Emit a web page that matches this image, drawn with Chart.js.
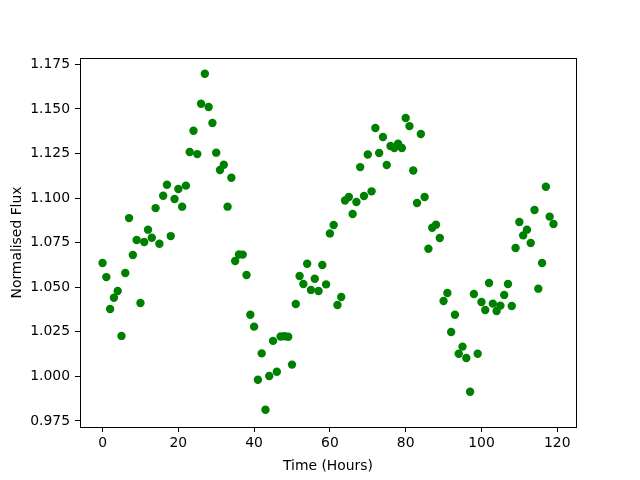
<!DOCTYPE html>
<html>
<head>
<meta charset="utf-8">
<script src="https://cdn.jsdelivr.net/npm/chart.js@4.4.0/dist/chart.umd.min.js"></script>
<style>
  html, body { margin: 0; padding: 0; background: #ffffff; }
  #wrap { width: 640px; height: 480px; }
</style>
</head>
<body>
<div id="wrap"><canvas id="c" width="640" height="480"></canvas></div>
<script>
const hours = [];
for (let h = 0; h < 120; h++) hours.push(h);

const flux = [
  1.0636, 1.0557, 1.0378, 1.0441, 1.0479, 1.0227, 1.0580, 1.0888, 1.0681, 1.0765,
  1.0412, 1.0754, 1.0823, 1.0778, 1.0944, 1.0744, 1.1013, 1.1075, 1.0787, 1.0995,
  1.1051, 1.0952, 1.1070, 1.1259, 1.1378, 1.1247, 1.1529, 1.1698, 1.1511, 1.1421,
  1.1255, 1.1158, 1.1187, 1.0952, 1.1114, 1.0647, 1.0684, 1.0683, 1.0569, 1.0346,
  1.0279, 0.9981, 1.0129, 0.9813, 1.0002, 1.0199, 1.0026, 1.0224, 1.0225, 1.0222,
  1.0066, 1.0406, 1.0563, 1.0518, 1.0632, 1.0485, 1.0548, 1.0479, 1.0625, 1.0516,
  1.0802, 1.0849, 1.0400, 1.0445, 1.0987, 1.1006, 1.0911, 1.0978, 1.1174, 1.1012,
  1.1245, 1.1038, 1.1393, 1.1253, 1.1343, 1.1186, 1.1292, 1.1281, 1.1305, 1.1281,
  1.1449, 1.1404, 1.1155, 1.0973, 1.1360, 1.1006, 1.0716, 1.0834, 1.0851, 1.0776,
  1.0423, 1.0468, 1.0249, 1.0346, 1.0127, 1.0167, 1.0103, 0.9914, 1.0462, 1.0127,
  1.0417, 1.0372, 1.0524, 1.0408, 1.0367, 1.0397, 1.0457, 1.0518, 1.0395, 1.0720,
  1.0866, 1.0791, 1.0823, 1.0748, 1.0933, 1.0492, 1.0636, 1.1064, 1.0896, 1.0855
];

const xTicks = [0, 20, 40, 60, 80, 100, 120];
const yTicks = [0.975, 1.000, 1.025, 1.050, 1.075, 1.100, 1.125, 1.150, 1.175];

const FONT = { family: "'DejaVu Sans', sans-serif", size: 13.9 };

const framePlugin = {
  id: 'frame',
  afterDraw(chart) {
    const a = chart.chartArea;
    const ctx = chart.ctx;
    ctx.save();
    ctx.strokeStyle = '#000000';
    ctx.lineWidth = 1;
    ctx.strokeRect(Math.round(a.left) + 0.5, Math.round(a.top) + 0.5,
                   Math.round(a.right - a.left), Math.round(a.bottom - a.top));
    ctx.restore();
  }
};

new Chart(document.getElementById('c'), {
  type: 'scatter',
  data: {
    datasets: [{
      data: hours.map((h, i) => ({ x: h, y: flux[i] })),
      backgroundColor: '#008000',
      borderColor: '#008000',
      borderWidth: 0,
      pointRadius: 4.2,
      pointHoverRadius: 4.2
    }]
  },
  options: {
    responsive: false,
    animation: false,
    devicePixelRatio: 1,
    layout: { padding: { left: 0, top: 58, right: 64, bottom: 0 } },
    plugins: { legend: { display: false }, tooltip: { enabled: false } },
    scales: {
      x: {
        type: 'linear',
        min: -5.95,
        max: 124.95,
        afterFit(s) { s.height = 53; },
        afterBuildTicks(s) { s.ticks = xTicks.map(v => ({ value: v })); },
        grid: { drawOnChartArea: false, drawTicks: true, tickLength: 5, color: '#000000', tickWidth: 1 },
        border: { display: true, color: '#000000', width: 1 },
        ticks: { color: '#000000', font: FONT, padding: 3, maxRotation: 0,
                 callback: v => String(v) },
        title: { display: true, text: 'Time (Hours)', color: '#000000', font: FONT,
                 padding: { top: 0, bottom: 5.5 } }
      },
      y: {
        type: 'linear',
        min: 0.9716,
        max: 1.1786,
        afterFit(s) { s.width = 80; },
        afterBuildTicks(s) { s.ticks = yTicks.map(v => ({ value: v })); },
        grid: { drawOnChartArea: false, drawTicks: true, tickLength: 5, color: '#000000', tickWidth: 1 },
        border: { display: true, color: '#000000', width: 1 },
        ticks: { color: '#000000', font: FONT, padding: 5,
                 callback: v => Number(v).toFixed(3) },
        title: { display: true, text: 'Normalised Flux', color: '#000000', font: FONT,
                 padding: { top: 9, bottom: 0 } }
      }
    }
  },
  plugins: [framePlugin]
});
</script>
</body>
</html>
